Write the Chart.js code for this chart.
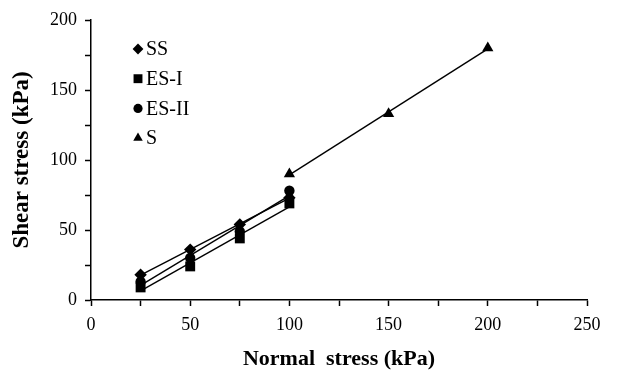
<!DOCTYPE html>
<html>
<head>
<meta charset="utf-8">
<script src="https://cdn.jsdelivr.net/npm/chart.js@4.4.1/dist/chart.umd.min.js"></script>
<style>
  html, body { margin: 0; padding: 0; background: #fff; }
  #wrap { width: 631px; height: 373px; position: relative; }
</style>
</head>
<body>
<div id="wrap"><canvas id="chart"></canvas></div>
<script>
// Values
const normalStress = [25, 50, 75, 100];
const ssShear = [18, 36, 54, 73];
const es1Shear = [9, 24, 44, 69];
const es2Shear = [13, 30, 49, 78];
const sNormal = [100, 150, 200];
const sShear = [90, 133, 180];

const seriesNames = ['SS', 'ES-I', 'ES-II', 'S'];
const xTickLabels = ['0', '50', '100', '150', '200', '250'];
const yTickLabels = ['0', '50', '100', '150', '200'];

const FONT = '"Liberation Serif", "Times New Roman", serif';

// Linear trendline (least squares) through a series, like the spreadsheet trendline
function trendline(xs, ys) {
    const n = xs.length;
    const mx = xs.reduce((a, b) => a + b, 0) / n;
    const my = ys.reduce((a, b) => a + b, 0) / n;
    let sxy = 0, sxx = 0;
    xs.forEach((x, i) => { sxy += (x - mx) * (ys[i] - my); sxx += (x - mx) * (x - mx); });
    const slope = sxy / sxx;
    const x0 = Math.min(...xs), x1 = Math.max(...xs);
    return [
        { x: x0, y: my + slope * (x0 - mx) },
        { x: x1, y: my + slope * (x1 - mx) }
    ];
}

function toPoints(xs, ys) {
    return xs.map((x, i) => ({ x: x, y: ys[i] }));
}

const markerStyles = [
    { pointStyle: 'rectRot', radius: 6.2, legendRadius: 5.4 },
    { pointStyle: 'rect', radius: 7, legendRadius: 6.3 },
    { pointStyle: 'circle', radius: 5.2, legendRadius: 4.6 },
    { pointStyle: 'triangle', radius: 6.5, legendRadius: 5.5 }
];

const seriesX = [normalStress, normalStress, normalStress, sNormal];
const seriesY = [ssShear, es1Shear, es2Shear, sShear];

const datasets = [];
// trendlines first so markers sit on top
seriesX.forEach((xs, i) => {
    datasets.push({
        label: seriesNames[i] + ' trend',
        data: trendline(xs, seriesY[i]),
        showLine: true,
        borderColor: '#000',
        borderWidth: 1.4,
        pointRadius: 0
    });
});
seriesX.forEach((xs, i) => {
    datasets.push({
        label: seriesNames[i],
        data: toPoints(xs, seriesY[i]),
        showLine: false,
        pointStyle: markerStyles[i].pointStyle,
        pointRadius: markerStyles[i].radius,
        pointBackgroundColor: '#000',
        pointBorderColor: '#000',
        pointBorderWidth: 0
    });
});

// Legend drawn inside the plot, top-left
const innerLegend = {
    id: 'innerLegend',
    afterDraw(chart) {
        const ctx = chart.ctx;
        const markerX = 138, textX = 146, top = 49, step = 29.7;
        ctx.save();
        ctx.fillStyle = '#000';
        ctx.strokeStyle = '#000';
        ctx.font = '20px ' + FONT;
        ctx.textBaseline = 'middle';
        ctx.textAlign = 'left';
        seriesNames.forEach((name, i) => {
            const y = top + i * step;
            Chart.helpers.drawPoint(ctx, {
                pointStyle: markerStyles[i].pointStyle,
                radius: markerStyles[i].legendRadius,
                rotation: 0,
                borderWidth: 0
            }, markerX, y);
            ctx.fillText(name, textX, y + 1);
        });
        ctx.restore();
    }
};

new Chart(document.getElementById('chart'), {
    type: 'scatter',
    data: { datasets: datasets },
    options: {
        responsive: true,
        maintainAspectRatio: false,
        animation: false,
        layout: { padding: { top: 20, right: 44, left: 0, bottom: 0 } },
        plugins: {
            legend: { display: false },
            tooltip: { enabled: false }
        },
        scales: {
            x: {
                type: 'linear',
                min: 0,
                max: 250,
                afterFit: scale => { scale.height = 73; },
                ticks: {
                    stepSize: 25,
                    padding: 8,
                    color: '#000',
                    font: { family: FONT, size: 18 },
                    callback: v => xTickLabels.includes(String(v)) ? String(v) : ''
                },
                grid: {
                    drawOnChartArea: false,
                    drawTicks: true,
                    tickLength: 6,
                    tickWidth: 1.5,
                    color: '#000'
                },
                border: { color: '#000', width: 1.5 },
                title: {
                    display: true,
                    text: 'Normal  stress (kPa)',
                    color: '#000',
                    font: { family: FONT, size: 22, weight: 'bold' },
                    padding: { top: 0, bottom: 0 }
                }
            },
            y: {
                type: 'linear',
                min: 0,
                max: 200,
                afterFit: scale => { scale.width = 91; },
                ticks: {
                    stepSize: 25,
                    padding: 8,
                    color: '#000',
                    font: { family: FONT, size: 18 },
                    callback: v => yTickLabels.includes(String(v)) ? String(v) : ''
                },
                grid: {
                    drawOnChartArea: false,
                    drawTicks: true,
                    tickLength: 6,
                    tickWidth: 1.5,
                    color: '#000'
                },
                border: { color: '#000', width: 1.5 },
                title: {
                    display: true,
                    text: 'Shear stress (kPa)',
                    color: '#000',
                    font: { family: FONT, size: 23, weight: 'bold' },
                    padding: { top: 8, bottom: 0 }
                }
            }
        }
    },
    plugins: [innerLegend]
});
</script>
</body>
</html>
